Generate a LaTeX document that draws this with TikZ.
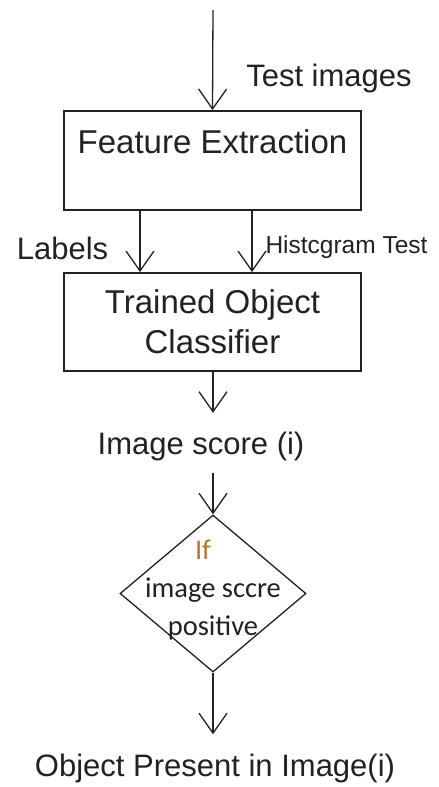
\documentclass[tikz,border=0pt]{standalone}
\usepackage{fontspec}
\setmainfont{Liberation Sans}
\newfontfamily\calfont{Carlito}
\usetikzlibrary{arrows.meta,shapes.geometric}
\definecolor{ink}{HTML}{222222}
\definecolor{ifcol}{HTML}{B8732E}
\tikzset{
  box/.style={draw=ink, line width=1.8pt, minimum width=297pt, inner sep=0pt},
  arr/.style={draw=ink, line width=1.3pt, -{Straight Barb[length=20pt,width=28pt,line width=1.3pt]}},
  lbl/.style={text=ink, inner sep=0pt, text height=23pt, text depth=7pt, font=\fontsize{31}{38}\selectfont},
}
\begin{document}
\begin{tikzpicture}[x=1pt,y=-1pt]
\useasboundingbox[fill=white] (0,0) rectangle (439,787);
\def\mid{212.5}

% boxes
\node[box, minimum height=99pt] (fe) at (\mid,160.5) {};
\node[lbl, font=\fontsize{33}{38}\selectfont] (fetext) at (\mid,145) {Feature Extraction};
\node[box, minimum height=98pt, align=center, text=ink, font=\fontsize{33}{40}\selectfont] (toc) at (\mid,322) {Trained Object\\Classifier};
\node[draw=ink, line width=1.3pt, shape=diamond, minimum width=186pt, minimum height=157pt, inner sep=0pt] (dia) at (213,593.5) {};
\node[text=ink, align=center, inner sep=0pt, font=\calfont\fontsize{28.5}{38}\selectfont] (diatext) at (213,590) {\hspace*{-20pt}\textcolor{ifcol}{If}\\image sccre\\positive};

% labels
\coordinate (input) at (213,10);
\node[lbl] (test) at (329,78) {Test images};
\node[lbl] (labels) at (62.5,251) {Labels};
\node[lbl, font=\fontsize{24.5}{30}\selectfont, text height=18pt, text depth=5pt] (hist) at (346.5,247) {Histcgram Test};
\node[lbl] (score) at (201,446) {Image score (i)};
\node[lbl] (obj) at (215,768) {Object Present in Image(i)};

% edges
\draw[arr] (input) -- (fe.north);
\draw[arr] ([xshift=-72.5pt]fe.south) -- ([xshift=-72.5pt]toc.north); % labels
\draw[arr] ([xshift=39.5pt]fe.south) -- ([xshift=39.5pt]toc.north); % histogram
\draw[arr, shorten >=18pt] ([xshift=0.5pt]toc.south) -- ([xshift=0.5pt]toc.south |- score.north);
\draw[arr, shorten <=11.5pt] (dia.north |- score.south) -- (dia.north);
\draw[arr, shorten >=18.5pt] (dia.south) -- (dia.south |- obj.north);
\end{tikzpicture}
\end{document}
